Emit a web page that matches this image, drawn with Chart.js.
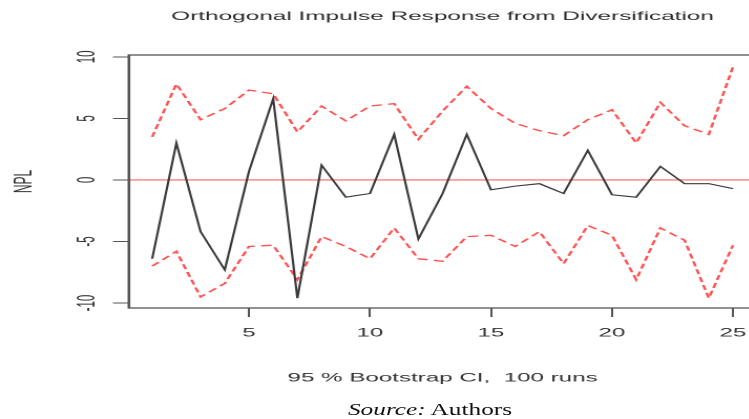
<!DOCTYPE html>
<html lang="en">
<head>
    <meta charset="UTF-8">
    <title>Orthogonal Impulse Response from Diversification</title>
    <script src="https://cdn.jsdelivr.net/npm/chart.js"></script>
    <style>
        body { margin: 0; overflow: hidden; background: #fff; width: 749px; height: 419px; position: relative; }
        #wrap { position: absolute; left: 0; top: 0; width: 365px; height: 419px; transform: scaleX(2.1); transform-origin: 0 0; }
        #source { position: absolute; left: 272px; top: 402px; width: 200px; text-align: center;
                  font: 16px/16px "Liberation Serif", "Times New Roman", serif; color: #111;
                  transform: scaleX(1.58); transform-origin: 0 0; white-space: nowrap; }
    </style>
</head>
<body>
    <div id="wrap"><canvas id="irfChart" width="365" height="419"></canvas></div>
    <div id="source"><i>Source:</i> Authors</div>
    <script>
        // horizon 1..25
        const periods = [1, 2, 3, 4, 5, 6, 7, 8, 9, 10, 11, 12, 13, 14, 15, 16, 17, 18, 19, 20, 21, 22, 23, 24, 25];
        const irf   = [-6.4, 3.0, -4.2, -7.3, 0.7, 6.6, -9.6, 1.2, -1.4, -1.1, 3.7, -4.8, -1.1, 3.7, -0.8, -0.5, -0.3, -1.1, 2.4, -1.2, -1.4, 1.1, -0.3, -0.3, -0.7];
        const upper = [3.5, 7.8, 4.9, 5.8, 7.3, 7.0, 3.9, 6.0, 4.8, 6.0, 6.2, 3.3, 5.6, 7.6, 5.8, 4.6, 4.0, 3.6, 4.9, 5.7, 3.0, 6.3, 4.4, 3.7, 9.2];
        const lower = [-7.0, -5.8, -9.5, -8.4, -5.4, -5.3, -8.1, -4.6, -5.4, -6.4, -3.9, -6.4, -6.6, -4.6, -4.5, -5.4, -4.2, -6.8, -3.7, -4.5, -8.1, -3.9, -4.9, -9.6, -5.3];
        const xTicks = [5, 10, 15, 20, 25];
        const yTicks = [-10, -5, 0, 5, 10];

        const sans = '"Liberation Sans", Arial, sans-serif';
        const toPoints = vals => vals.map((v, i) => ({ x: periods[i], y: v }));

        // R-style frame, zero line, rotated y labels and main title
        const rStyle = {
            id: 'rStyle',
            beforeDatasetsDraw(chart) {
                const { ctx, chartArea: a, scales: { y } } = chart;
                const y0 = y.getPixelForValue(0);
                ctx.save();
                ctx.strokeStyle = 'rgba(255, 80, 80, 0.9)';
                ctx.lineWidth = 1.2;
                ctx.beginPath();
                ctx.moveTo(a.left, y0);
                ctx.lineTo(a.right, y0);
                ctx.stroke();
                ctx.restore();
            },
            afterDraw(chart) {
                const { ctx, chartArea: a, scales: { y } } = chart;
                ctx.save();
                ctx.strokeStyle = '#555';
                ctx.lineWidth = 1.3;
                ctx.strokeRect(a.left, a.top, a.right - a.left, a.bottom - a.top);

                ctx.fillStyle = '#333';
                ctx.font = '11.5px ' + sans;
                ctx.textAlign = 'center';
                ctx.textBaseline = 'middle';
                yTicks.forEach(v => {
                    ctx.save();
                    ctx.translate(42, y.getPixelForValue(v));
                    ctx.rotate(-Math.PI / 2);
                    ctx.fillText(String(v), 0, 0);
                    ctx.restore();
                });

                ctx.font = '11.6px ' + sans;
                ctx.fillStyle = '#2b2b2b';
                ctx.fillText('Orthogonal Impulse Response from Diversification', (a.left + a.right) / 2, 17);
                ctx.restore();
            }
        };

        new Chart(document.getElementById('irfChart'), {
            type: 'line',
            data: {
                datasets: [
                    { label: 'irf', data: toPoints(irf), borderColor: '#3a3a3a', borderWidth: 1.1 },
                    { label: 'upper', data: toPoints(upper), borderColor: 'rgba(255, 50, 50, 0.85)', borderWidth: 1.3, borderDash: [5, 3] },
                    { label: 'lower', data: toPoints(lower), borderColor: 'rgba(255, 50, 50, 0.85)', borderWidth: 1.3, borderDash: [5, 3] }
                ]
            },
            options: {
                responsive: false,
                animation: false,
                devicePixelRatio: 2,
                events: [],
                layout: { padding: { top: 55, right: 1.5, bottom: 0, left: 0 } },
                elements: { point: { radius: 0 }, line: { tension: 0 } },
                plugins: { legend: { display: false }, tooltip: { enabled: false } },
                scales: {
                    x: {
                        type: 'linear',
                        min: 0.04,
                        max: 25.96,
                        afterBuildTicks: s => { s.ticks = xTicks.map(v => ({ value: v })); },
                        afterFit: s => { s.height = 111; },
                        grid: { drawOnChartArea: false, tickLength: 9, color: '#555' },
                        border: { display: false },
                        ticks: { padding: 9.5, color: '#333', font: { family: sans, size: 11.5 } },
                        title: {
                            display: true,
                            text: '95 % Bootstrap CI,  100 runs',
                            color: '#333',
                            font: { family: sans, size: 11.5 },
                            padding: { top: 0, bottom: 34 }
                        }
                    },
                    y: {
                        min: -10.4,
                        max: 10.15,
                        afterBuildTicks: s => { s.ticks = yTicks.map(v => ({ value: v })); },
                        afterFit: s => { s.width = 61.4; },
                        grid: { drawOnChartArea: false, tickLength: 7.6, color: '#555' },
                        border: { display: false },
                        ticks: { display: false },
                        title: {
                            display: true,
                            text: 'NPL',
                            color: '#333',
                            font: { family: sans, size: 12 },
                            padding: { top: 4.7, bottom: 0 }
                        }
                    }
                }
            },
            plugins: [rStyle]
        });
    </script>
</body>
</html>
